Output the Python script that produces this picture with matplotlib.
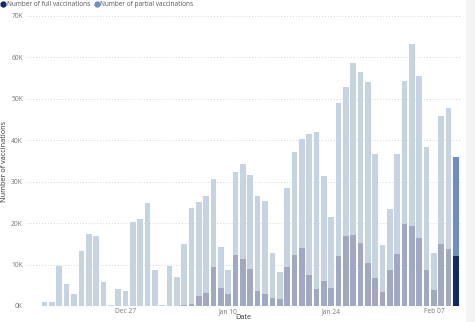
import matplotlib.pyplot as plt
import pandas as pd
from matplotlib.lines import Line2D
from matplotlib.patches import Rectangle

plt.rcParams['font.family'] = ['Open Sans', 'DejaVu Sans']

dates = pd.date_range('2020-12-16', '2021-02-10', freq='D')

full = [0, 0, 0, 0, 0, 0, 0, 0, 0, 0, 0, 0, 0, 0, 0, 0,
        0, 0, 100, 300, 500, 2400, 3200, 9500, 4300, 3000, 12200, 11300,
        9000, 3700, 2800, 2000, 1600, 9500, 12300, 14100, 7400, 4200,
        6100, 4300, 12100, 16900, 17200, 15200, 10300, 6700, 3300, 8700,
        12600, 19700, 19400, 16300, 8700, 3800, 15000, 13700, 12100]

partial = [900, 1000, 9600, 5300, 3000, 13200, 17300, 16900, 5800, 300,
           4200, 3600, 20300, 21000, 24900, 8800,
           200, 9600, 6900, 14700, 23200, 22600, 23300, 21100, 10000, 5700,
           20200, 23000, 22600, 22800, 22600, 10700, 6500, 18900, 24800,
           26100, 34100, 37800, 25300, 17300, 37000, 35900, 41400, 41200,
           43700, 30100, 11500, 14700, 24200, 34500, 43800, 39200, 29600,
           8900, 30800, 34200, 23900]

tick_days = ['2020-12-27', '2021-01-10', '2021-01-24', '2021-02-07']

full_color = '#0f2a6b'
partial_color = '#6b8fbf'
full_faded = '#a0a8c3'
partial_faded = '#c6d3e3'

fig = plt.figure(figsize=(4.75, 3.22), dpi=100)
fig.patches.append(Rectangle((466 / 475, 0), 9 / 475, 1, transform=fig.transFigure,
                             color='#f3f3f3', zorder=0))
ax = fig.add_axes([27 / 475, 16 / 322, 433 / 475, 290 / 322])

x = list(range(len(dates)))
last = len(dates) - 1
fc = [full_faded] * last + [full_color]
pc = [partial_faded] * last + [partial_color]
ax.bar(x, full, width=0.77, color=fc, zorder=2)
ax.bar(x, partial, bottom=full, width=0.77, color=pc, zorder=2)

ax.set_xlim(-2.4, 56.55)
ax.set_ylim(0, 70000)
yt = list(range(0, 70001, 10000))
ax.set_yticks(yt)
ax.set_yticklabels([f'{v // 1000}K' for v in yt])
ax.yaxis.grid(True, linestyle=(0, (1, 2.5)), color='#c8c8c8', linewidth=0.6, zorder=0)

pos = [list(dates).index(pd.Timestamp(d)) for d in tick_days]
ax.set_xticks(pos)
ax.set_xticklabels([pd.Timestamp(d).strftime('%b %d') for d in tick_days])

ax.tick_params(axis='both', length=0, labelsize=4.8, colors='#777777', pad=1.5)
ax.tick_params(axis='y', pad=3)
for s in ax.spines.values():
    s.set_visible(False)

ax.set_xlabel('Date', fontsize=5.2, color='#333333')
ax.xaxis.set_label_coords(0.5, -0.027)
ax.set_ylabel('Number of vaccinations', fontsize=5.2, color='#333333')
ax.yaxis.set_label_coords(-0.044, 0.5)

handles = [Line2D([], [], marker='o', linestyle='', color=full_color, markersize=3.5),
           Line2D([], [], marker='o', linestyle='', color=partial_color, markersize=3.5)]
fig.legend(handles, ['Number of full vaccinations', 'Number of partial vaccinations'],
           loc='upper left', bbox_to_anchor=(0.0, 1.0), ncol=2, frameon=False,
           fontsize=4.7, handlelength=0.6, handletextpad=0.2, columnspacing=0.8,
           borderaxespad=0.1, borderpad=0.1, labelcolor='#555555')

fig.savefig('out.png', dpi=100)
